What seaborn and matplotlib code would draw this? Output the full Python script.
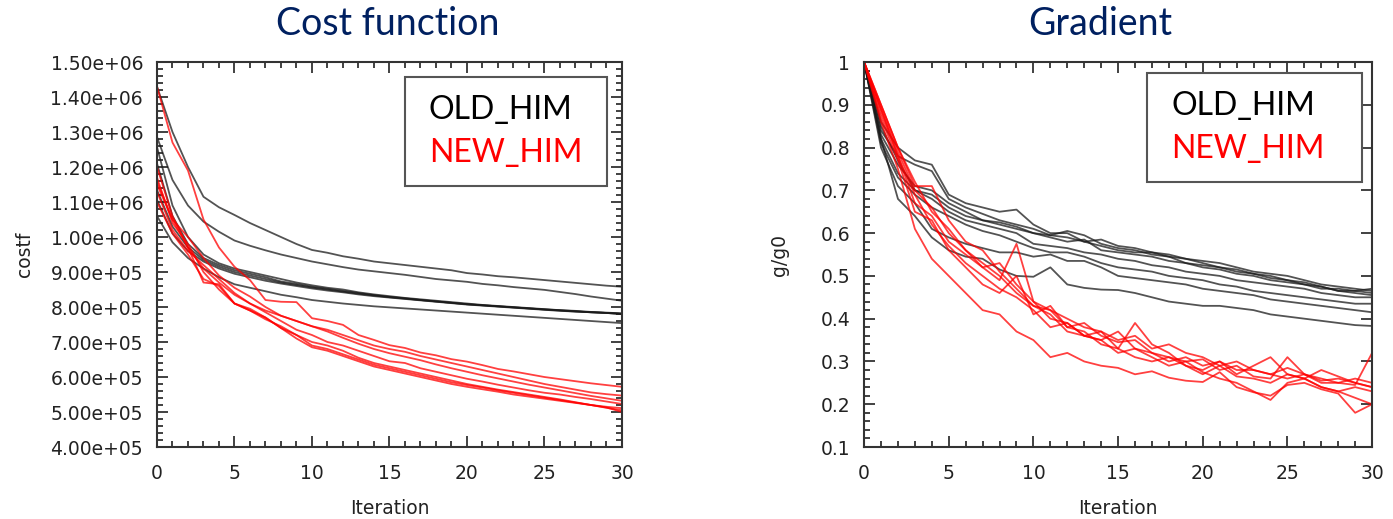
import pandas as pd
import numpy as np
import seaborn as sns
import matplotlib.pyplot as plt
from matplotlib.ticker import MultipleLocator, AutoMinorLocator, FormatStrFormatter, FuncFormatter

iterations = list(range(31))

# cost function runs, values in thousands
cost_old_k = [
    [1430, 1300, 1200, 1115, 1085, 1063, 1040, 1020, 1000, 980, 963, 955, 945, 938, 930, 925, 920, 915, 910, 905, 897, 893, 888, 885, 881, 877, 873, 869, 865, 861, 858],
    [1286, 1163, 1090, 1044, 1015, 990, 975, 962, 950, 940, 930, 922, 914, 907, 902, 897, 892, 886, 880, 876, 872, 866, 862, 857, 853, 849, 843, 837, 830, 824, 818],
    [1257, 1090, 1000, 950, 925, 910, 900, 890, 880, 870, 862, 855, 850, 842, 836, 831, 826, 822, 818, 814, 810, 806, 803, 800, 797, 794, 791, 789, 786, 784, 782],
    [1210, 1060, 980, 940, 920, 905, 895, 885, 873, 866, 858, 852, 846, 840, 834, 829, 825, 820, 816, 812, 808, 805, 802, 799, 796, 793, 791, 788, 785, 783, 780],
    [1134, 1030, 970, 935, 915, 900, 890, 880, 870, 863, 856, 850, 844, 838, 833, 828, 824, 820, 816, 812, 808, 805, 802, 799, 796, 793, 790, 787, 785, 783, 780],
    [1106, 1010, 960, 930, 910, 895, 885, 875, 867, 860, 853, 847, 842, 836, 831, 827, 823, 819, 815, 811, 807, 804, 801, 798, 795, 792, 789, 787, 785, 783, 781],
    [1060, 985, 940, 910, 885, 865, 855, 845, 835, 828, 820, 815, 810, 806, 802, 799, 796, 793, 790, 787, 784, 781, 778, 775, 772, 769, 766, 763, 760, 757, 754],
]
cost_new_k = [
    [1430, 1270, 1190, 1050, 970, 915, 877, 820, 815, 814, 768, 760, 749, 720, 706, 691, 683, 670, 662, 651, 644, 634, 623, 616, 608, 600, 594, 588, 582, 577, 572],
    [1200, 1060, 970, 870, 865, 810, 795, 770, 740, 720, 700, 690, 675, 655, 640, 630, 620, 610, 600, 590, 580, 572, 564, 557, 550, 543, 536, 528, 520, 512, 505],
    [1170, 1040, 980, 900, 850, 810, 790, 765, 745, 720, 690, 680, 665, 650, 635, 625, 615, 605, 595, 585, 577, 570, 562, 555, 548, 541, 534, 527, 520, 513, 500],
    [1150, 1050, 1000, 940, 890, 855, 830, 800, 775, 760, 745, 735, 720, 705, 690, 680, 672, 660, 650, 640, 630, 620, 610, 600, 590, 580, 572, 564, 556, 551, 547],
    [1130, 1020, 960, 920, 880, 840, 810, 785, 760, 735, 720, 700, 690, 675, 660, 645, 640, 625, 615, 605, 595, 587, 578, 570, 562, 555, 550, 543, 537, 530, 523],
    [1100, 1010, 950, 880, 860, 810, 790, 770, 740, 710, 685, 675, 660, 645, 630, 620, 610, 600, 590, 580, 572, 565, 558, 550, 544, 538, 532, 526, 520, 515, 511],
    [1160, 1050, 970, 910, 870, 835, 810, 790, 775, 760, 745, 730, 712, 695, 680, 668, 658, 648, 636, 625, 615, 605, 596, 587, 578, 570, 562, 554, 546, 539, 532],
]

# normalised gradient runs
grad_old = [
    [1.0, 0.86, 0.80, 0.77, 0.76, 0.69, 0.67, 0.66, 0.65, 0.655, 0.62, 0.60, 0.60, 0.58, 0.585, 0.57, 0.565, 0.555, 0.55, 0.54, 0.535, 0.53, 0.52, 0.51, 0.505, 0.50, 0.49, 0.48, 0.475, 0.47, 0.465],
    [1.0, 0.84, 0.78, 0.76, 0.745, 0.68, 0.66, 0.645, 0.63, 0.62, 0.61, 0.595, 0.605, 0.595, 0.575, 0.565, 0.56, 0.55, 0.545, 0.54, 0.53, 0.52, 0.515, 0.505, 0.50, 0.49, 0.48, 0.475, 0.465, 0.465, 0.46],
    [1.0, 0.83, 0.76, 0.71, 0.70, 0.67, 0.65, 0.63, 0.62, 0.61, 0.60, 0.595, 0.59, 0.58, 0.57, 0.56, 0.555, 0.555, 0.545, 0.53, 0.525, 0.52, 0.51, 0.505, 0.495, 0.49, 0.485, 0.475, 0.465, 0.46, 0.455],
    [1.0, 0.85, 0.77, 0.70, 0.69, 0.66, 0.64, 0.63, 0.625, 0.615, 0.60, 0.59, 0.58, 0.585, 0.56, 0.555, 0.55, 0.545, 0.535, 0.53, 0.52, 0.515, 0.505, 0.50, 0.49, 0.485, 0.48, 0.47, 0.47, 0.465, 0.47],
    [1.0, 0.82, 0.74, 0.70, 0.68, 0.65, 0.63, 0.62, 0.61, 0.60, 0.575, 0.57, 0.565, 0.555, 0.55, 0.54, 0.535, 0.525, 0.52, 0.51, 0.505, 0.50, 0.49, 0.485, 0.48, 0.475, 0.47, 0.46, 0.455, 0.45, 0.45],
    [1.0, 0.81, 0.73, 0.69, 0.66, 0.64, 0.62, 0.605, 0.595, 0.58, 0.565, 0.555, 0.555, 0.545, 0.53, 0.52, 0.515, 0.51, 0.50, 0.495, 0.49, 0.48, 0.475, 0.465, 0.46, 0.455, 0.45, 0.445, 0.44, 0.435, 0.435],
    [1.0, 0.80, 0.71, 0.67, 0.61, 0.59, 0.575, 0.565, 0.555, 0.555, 0.545, 0.55, 0.535, 0.535, 0.52, 0.50, 0.495, 0.49, 0.485, 0.48, 0.47, 0.465, 0.46, 0.455, 0.445, 0.44, 0.435, 0.43, 0.425, 0.42, 0.415],
    [1.0, 0.82, 0.68, 0.64, 0.59, 0.56, 0.545, 0.54, 0.515, 0.50, 0.498, 0.52, 0.48, 0.472, 0.468, 0.467, 0.46, 0.45, 0.44, 0.435, 0.43, 0.43, 0.425, 0.42, 0.41, 0.405, 0.40, 0.395, 0.39, 0.385, 0.383],
]
grad_new = [
    [1.0, 0.86, 0.75, 0.61, 0.54, 0.50, 0.46, 0.42, 0.41, 0.37, 0.35, 0.31, 0.32, 0.30, 0.29, 0.285, 0.27, 0.277, 0.262, 0.255, 0.252, 0.275, 0.24, 0.228, 0.22, 0.245, 0.25, 0.235, 0.225, 0.18, 0.20],
    [1.0, 0.89, 0.79, 0.70, 0.66, 0.60, 0.56, 0.52, 0.49, 0.575, 0.44, 0.42, 0.40, 0.38, 0.37, 0.35, 0.36, 0.33, 0.34, 0.32, 0.31, 0.29, 0.30, 0.28, 0.27, 0.285, 0.27, 0.255, 0.26, 0.25, 0.24],
    [1.0, 0.90, 0.80, 0.71, 0.71, 0.63, 0.58, 0.56, 0.51, 0.47, 0.43, 0.42, 0.38, 0.39, 0.36, 0.345, 0.35, 0.32, 0.31, 0.30, 0.305, 0.28, 0.29, 0.265, 0.26, 0.31, 0.27, 0.26, 0.25, 0.245, 0.32],
    [1.0, 0.88, 0.78, 0.67, 0.64, 0.58, 0.55, 0.52, 0.53, 0.48, 0.44, 0.40, 0.39, 0.36, 0.35, 0.37, 0.33, 0.32, 0.30, 0.31, 0.29, 0.30, 0.28, 0.28, 0.27, 0.26, 0.27, 0.25, 0.25, 0.26, 0.25],
    [1.0, 0.87, 0.77, 0.65, 0.63, 0.56, 0.52, 0.48, 0.46, 0.50, 0.41, 0.43, 0.38, 0.37, 0.34, 0.33, 0.39, 0.34, 0.32, 0.29, 0.28, 0.30, 0.27, 0.29, 0.31, 0.27, 0.26, 0.28, 0.265, 0.25, 0.24],
    [1.0, 0.89, 0.78, 0.69, 0.62, 0.57, 0.53, 0.50, 0.47, 0.45, 0.42, 0.38, 0.39, 0.36, 0.37, 0.33, 0.31, 0.30, 0.31, 0.29, 0.27, 0.29, 0.265, 0.26, 0.25, 0.27, 0.26, 0.24, 0.23, 0.24, 0.23],
    [1.0, 0.90, 0.80, 0.72, 0.65, 0.61, 0.56, 0.53, 0.50, 0.46, 0.43, 0.41, 0.37, 0.36, 0.35, 0.32, 0.33, 0.31, 0.29, 0.30, 0.275, 0.26, 0.25, 0.23, 0.21, 0.25, 0.26, 0.24, 0.23, 0.215, 0.20],
]

models = ['OLD_HIM', 'NEW_HIM']
palette = {'OLD_HIM': '#1a1a1a', 'NEW_HIM': '#ff0000'}


def to_long(runs, label, scale=1.0):
    rows = []
    for r, vals in enumerate(runs):
        for it, v in zip(iterations, vals):
            rows.append((label + '_' + str(r), label, it, v * scale))
    return rows


cols = ['run', 'model', 'Iteration', 'value']
df_cost = pd.DataFrame(to_long(cost_old_k, 'OLD_HIM', 1e3) + to_long(cost_new_k, 'NEW_HIM', 1e3), columns=cols)
df_grad = pd.DataFrame(to_long(grad_old, 'OLD_HIM') + to_long(grad_new, 'NEW_HIM'), columns=cols)

sns.set_style('ticks')
plt.rcParams['font.family'] = ['DejaVu Sans']

fig = plt.figure(figsize=(13.93, 5.19), dpi=100)
ax1 = fig.add_axes([0.1127, 0.1387, 0.3338, 0.7418])
ax2 = fig.add_axes([0.6203, 0.1387, 0.3647, 0.7418])

for ax, df in [(ax1, df_cost), (ax2, df_grad)]:
    sns.lineplot(data=df, x='Iteration', y='value', hue='model', hue_order=models,
                 units='run', estimator=None, palette=palette, sort=False,
                 lw=1.3, alpha=0.75, legend=False, ax=ax)


def style_axes(ax):
    ax.set_xlim(0, 30)
    ax.xaxis.set_major_locator(MultipleLocator(5))
    ax.xaxis.set_minor_locator(MultipleLocator(1))
    ax.yaxis.set_minor_locator(AutoMinorLocator(5))
    ax.tick_params(which='both', direction='in', top=True, right=True,
                   color='#333333', width=1.3)
    ax.tick_params(which='major', length=8, labelsize=13.5, labelcolor='#222222')
    ax.tick_params(which='minor', length=4.5)
    ax.tick_params(axis='x', pad=12)
    ax.tick_params(axis='y', pad=10)
    for s in ax.spines.values():
        s.set_visible(True)
        s.set_color('#333333')
        s.set_linewidth(1.5)
    ax.set_xlabel('Iteration', fontsize=13.5, color='#222222')
    ax.xaxis.set_label_coords(0.5, -0.135)


def add_legend(ax, anchor):
    handles = [plt.Line2D([], [], lw=0, label=m) for m in models]
    leg = ax.legend(handles=handles, loc='upper left', bbox_to_anchor=anchor, mode='expand',
                    borderaxespad=0, handlelength=0, handletextpad=0.2,
                    borderpad=0.55, labelspacing=0.42,
                    fancybox=False, framealpha=1, edgecolor='#555555',
                    prop={'family': 'Lato', 'size': 23}, labelcolor=['black', 'red'])
    leg.get_frame().set_linewidth(1.5)


style_axes(ax1)
ax1.set_ylim(4e5, 1.5e6)
ax1.yaxis.set_major_locator(MultipleLocator(1e5))
ax1.yaxis.set_major_formatter(FormatStrFormatter('%.2e'))
ax1.set_ylabel('costf', fontsize=13.5, color='#222222')
ax1.yaxis.set_label_coords(-0.265, 0.5)
add_legend(ax1, (0.533, 0.678, 0.435, 0.283))

style_axes(ax2)
ax2.set_ylim(0.1, 1.0)
ax2.yaxis.set_major_locator(MultipleLocator(0.1))
ax2.yaxis.set_major_formatter(FuncFormatter(lambda v, p: '{:g}'.format(round(v, 2))))
ax2.tick_params(axis='y', which='minor', right=False)
ax2.set_ylabel('g/g0', fontsize=13.5, color='#222222')
ax2.yaxis.set_label_coords(-0.148, 0.5)
add_legend(ax2, (0.557, 0.686, 0.423, 0.285))

fig.text(0.278, 0.954, 'Cost function', ha='center', va='center', fontsize=27,
         color='#002060', family='Lato')
fig.text(0.79, 0.954, 'Gradient', ha='center', va='center', fontsize=27,
         color='#002060', family='Lato')

fig.savefig('out.png', dpi=100)
